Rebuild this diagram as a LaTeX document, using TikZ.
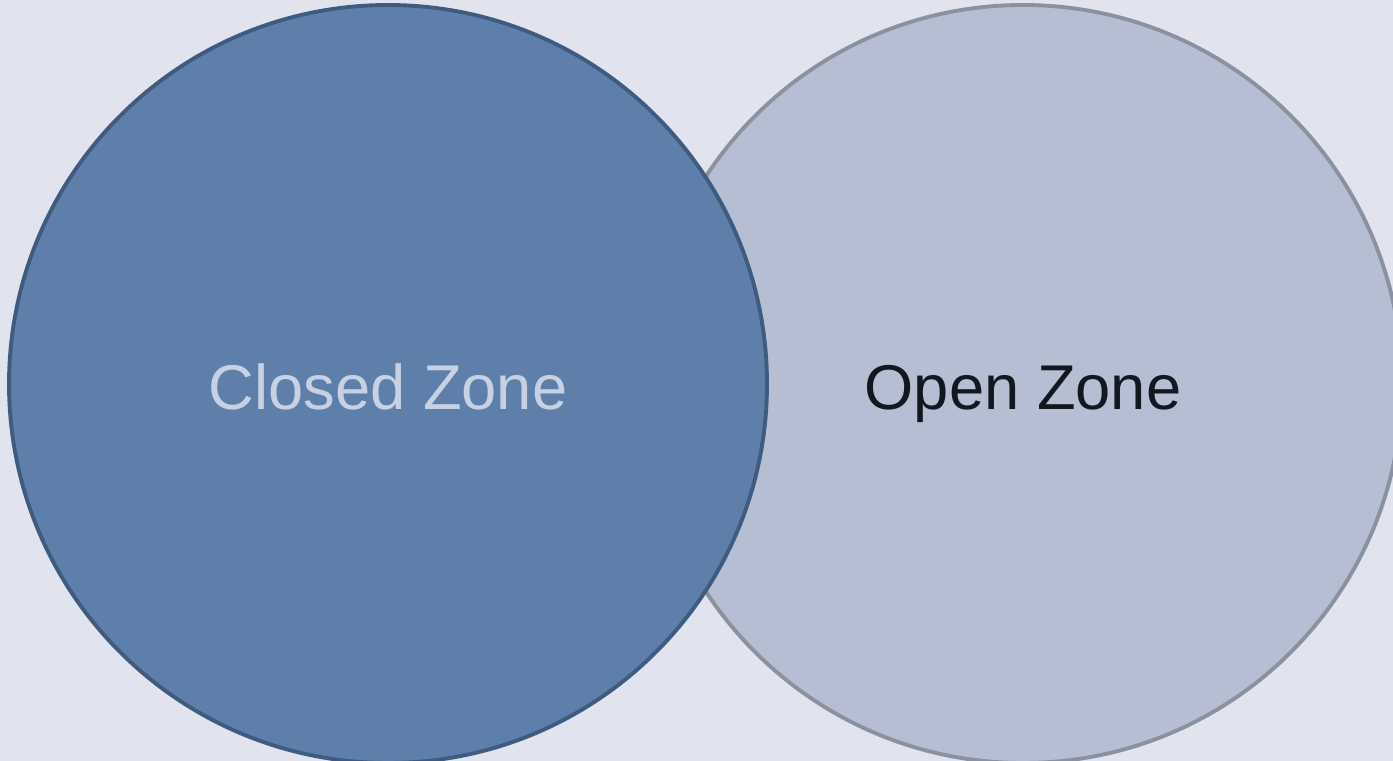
\documentclass[tikz,border=0pt]{standalone}
\usepackage{fontspec}
\setmainfont{Liberation Sans}
\usepackage{tikz}
\usetikzlibrary{positioning,calc}
\definecolor{bgcol}{HTML}{E1E4EF}
\definecolor{closedfill}{HTML}{5D7FA9}
\definecolor{closededge}{HTML}{3F5B7F}
\definecolor{openfill}{HTML}{B5BED2}
\definecolor{openedge}{HTML}{8A929F}
\definecolor{closedtext}{HTML}{C8D0E3}
\definecolor{opentext}{HTML}{111820}
\begin{document}
\begin{tikzpicture}
    %Definitions%
    %===========================================================
    \def \W {27.86}; %Width of picture in cm
    \def \H {15.22}; %Height of picture in cm
    \def \R {7.58}; %Radius of both zones
    \def \Drop {0.52}; %Baseline of labels below the centers
    \coordinate (origo) at (0,0);
    \coordinate (top) at (\W,\H);
    \coordinate (closed_c) at (7.76,7.54); %Center of closed zone
    \coordinate (open_c) at (20.46,7.54); %Center of open zone
    %Background%
    \fill[bgcol] (origo) rectangle (top);
    \useasboundingbox (origo) rectangle (top);
    %Zones%
    %===========================================================
    \node (open) at (open_c) [circle,fill=openfill,draw=openedge,line width=2.2pt,inner sep=0pt,minimum size=2*\R cm] {}; %Open zone, behind
    \node (closed) at (closed_c) [circle,fill=closedfill,draw=closededge,line width=2.2pt,inner sep=0pt,minimum size=2*\R cm] {}; %Closed zone, in front
    \node[anchor=base,text=closedtext,font=\fontsize{36}{40}\selectfont] (closedlabel) at ($(closed)+(0,-\Drop)$) {Closed Zone};
    \node[anchor=base,text=opentext,font=\fontsize{36}{40}\selectfont] (openlabel) at ($(open)+(0,-\Drop)$) {Open Zone};
\end{tikzpicture}
\end{document}
